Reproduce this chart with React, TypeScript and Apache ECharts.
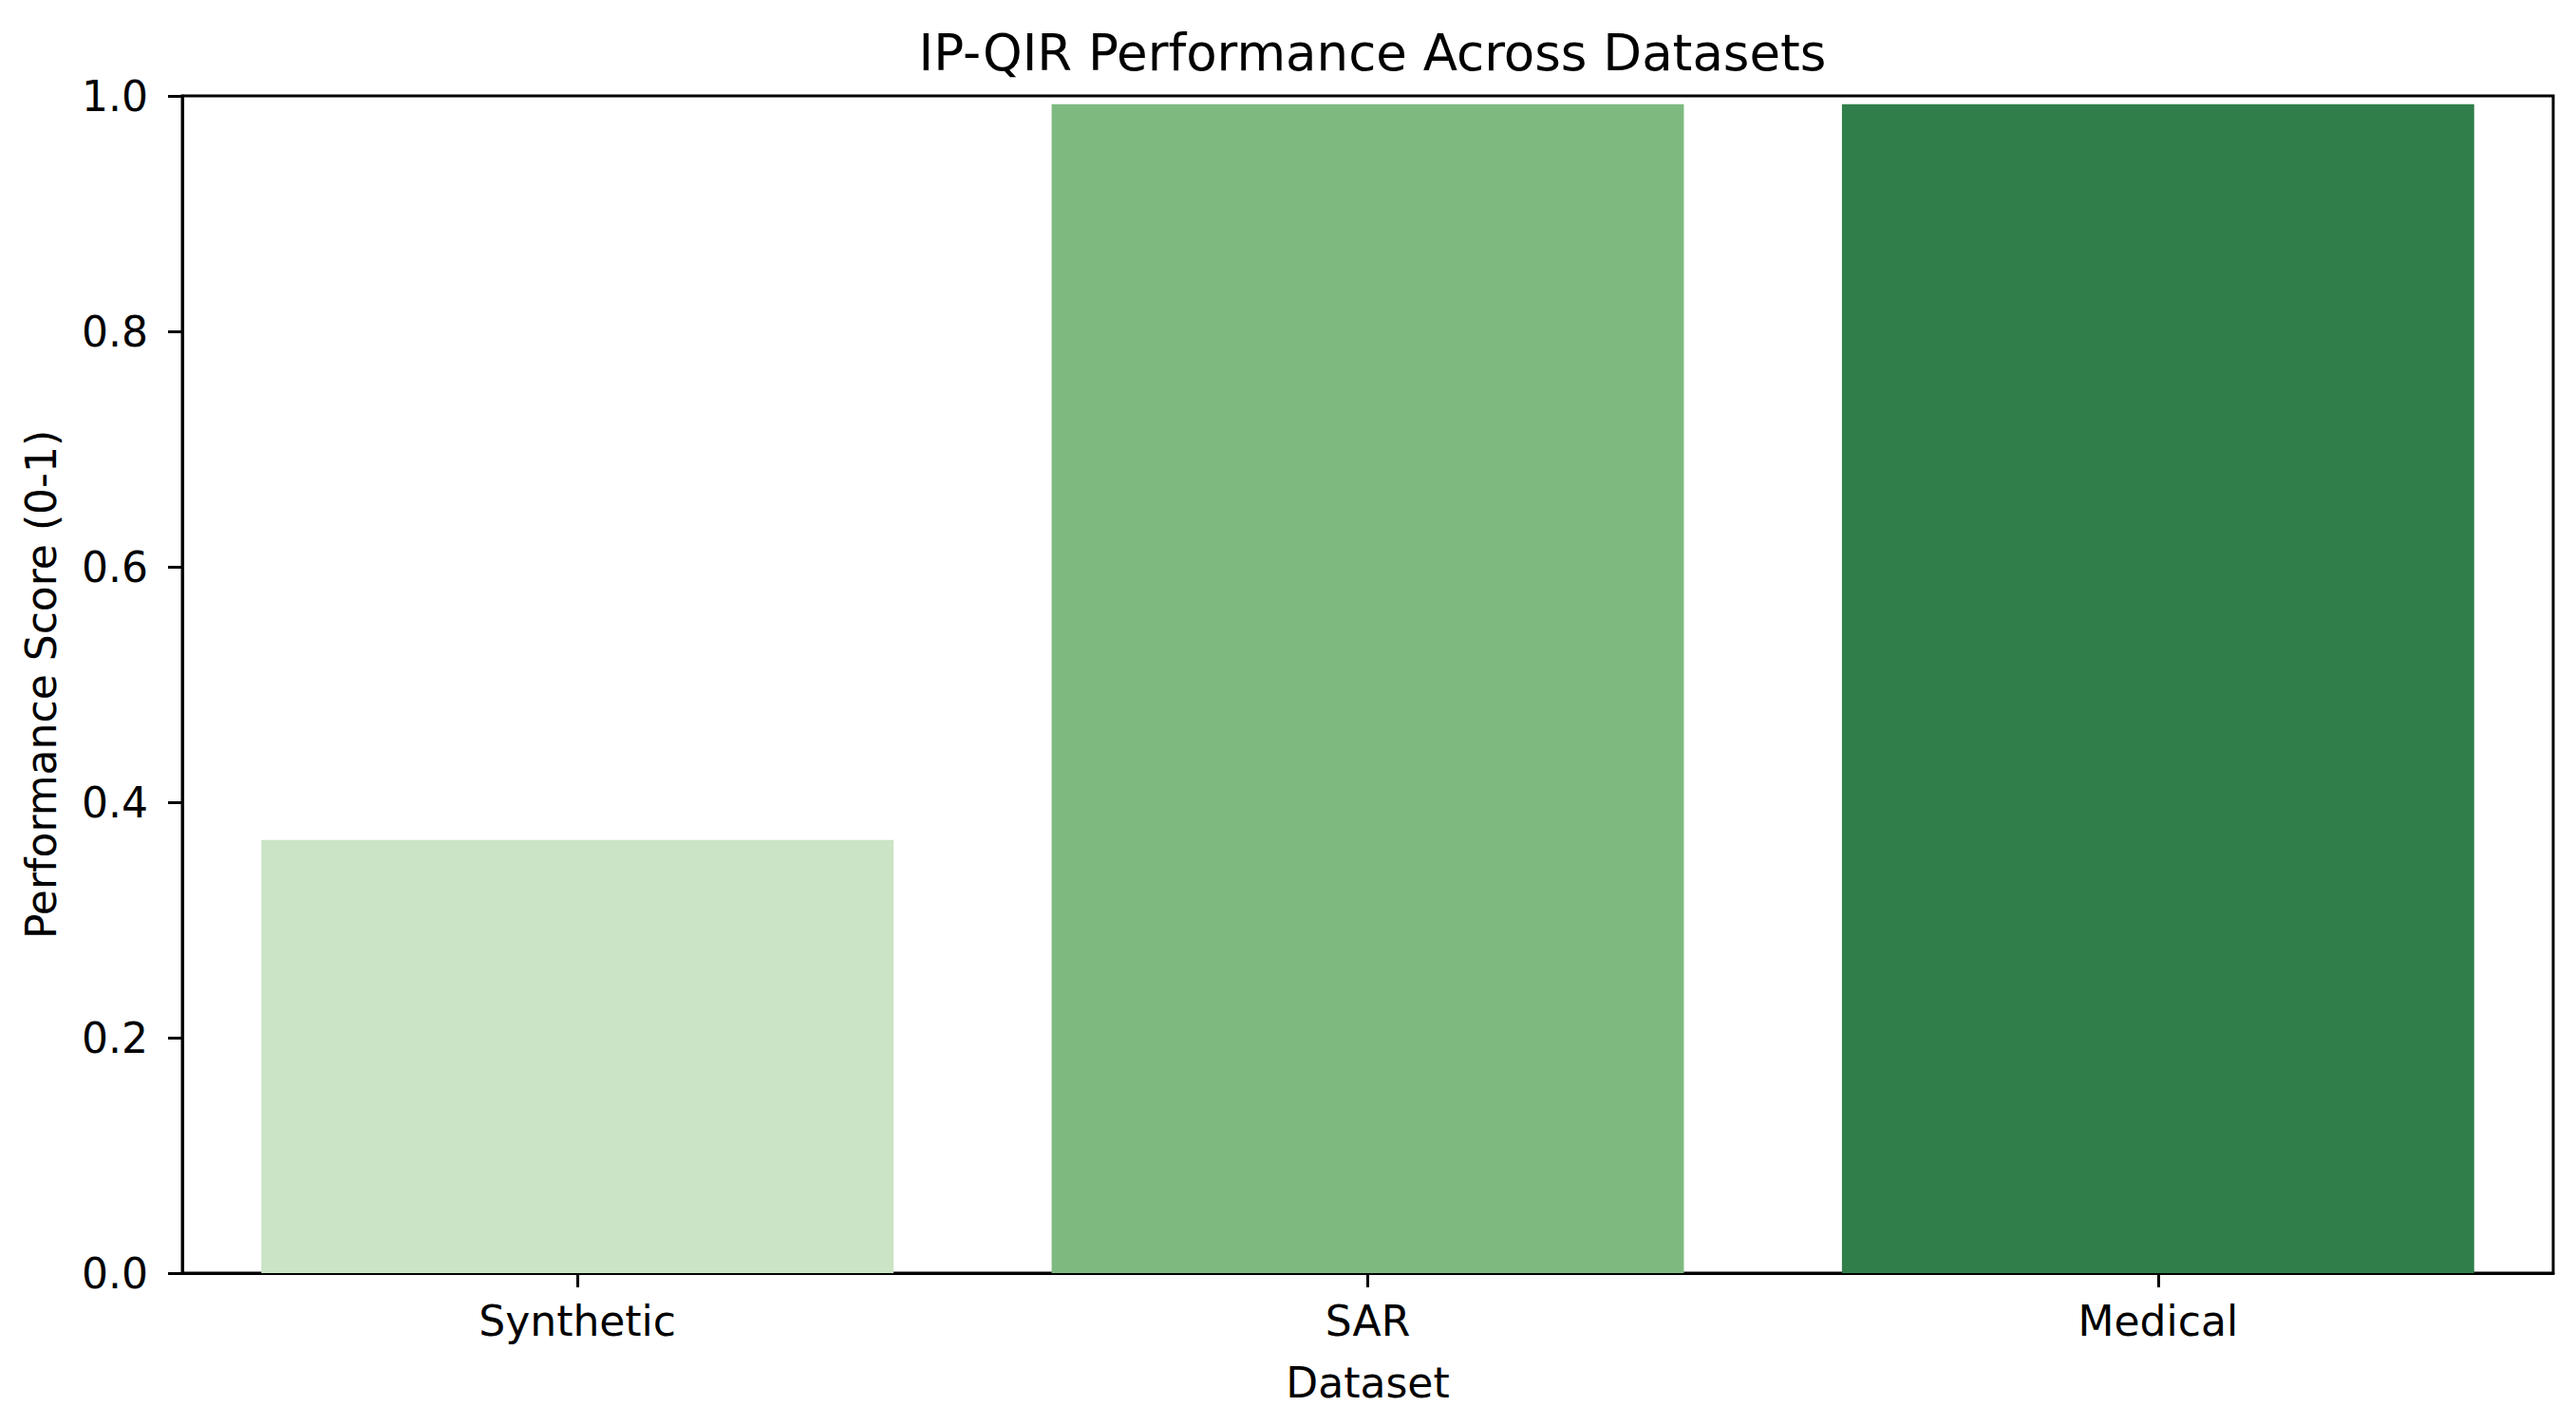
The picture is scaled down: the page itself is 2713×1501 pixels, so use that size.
import React, { useEffect, useRef } from "react";
import * as echarts from "echarts";

const categories = ["Synthetic", "SAR", "Medical"];
const scores = [0.368, 0.993, 0.993];
const barColors = ["#cae4c5", "#7eba80", "#307e4a"];
const yTicks = [0, 0.2, 0.4, 0.6, 0.8, 1.0];

const titleText = "IP-QIR Performance Across Datasets";
const xName = "Dataset";
const yName = "Performance Score (0-1)";

const FONT = "DejaVu Sans";

export default function App() {
  const ref = useRef<HTMLDivElement>(null);

  useEffect(() => {
    if (!ref.current) return;
    const chart = echarts.init(ref.current, null, { renderer: "svg" });
    const option = {
      animation: false,
      backgroundColor: "#ffffff",
      title: {
        text: titleText,
        left: 1440.5,
        top: 24,
        textAlign: "center",
        textStyle: {
          fontFamily: FONT,
          fontSize: 53,
          fontWeight: "normal",
          color: "#000000",
        },
      },
      grid: {
        left: 192,
        right: 24,
        top: 101,
        bottom: 160,
        show: true,
        borderColor: "#000000",
        borderWidth: 3,
        backgroundColor: "transparent",
      },
      xAxis: {
        type: "category",
        data: categories,
        boundaryGap: true,
        name: xName,
        nameLocation: "middle",
        nameGap: 93,
        nameTextStyle: { fontFamily: FONT, fontSize: 44, color: "#000000" },
        axisLine: { show: true, lineStyle: { color: "#000000", width: 3 } },
        axisTick: {
          show: true,
          alignWithLabel: true,
          length: 15,
          lineStyle: { color: "#000000", width: 3 },
        },
        axisLabel: {
          fontFamily: FONT,
          fontSize: 44,
          color: "#000000",
          margin: 28,
        },
        splitLine: { show: false },
      },
      yAxis: {
        type: "value",
        min: 0,
        max: 1,
        interval: 0.2,
        name: yName,
        nameLocation: "middle",
        nameGap: 127,
        nameTextStyle: { fontFamily: FONT, fontSize: 44, color: "#000000" },
        axisLine: { show: true, lineStyle: { color: "#000000", width: 3 } },
        axisTick: {
          show: true,
          length: 15,
          lineStyle: { color: "#000000", width: 3 },
        },
        axisLabel: {
          fontFamily: FONT,
          fontSize: 44,
          color: "#000000",
          margin: 36,
          formatter: (v: number) => {
            const t = yTicks.find((x) => Math.abs(x - v) < 1e-9);
            return (t !== undefined ? t : v).toFixed(1);
          },
        },
        splitLine: { show: false },
      },
      series: [
        {
          type: "bar",
          barWidth: "80%",
          data: scores.map((v, i) => ({
            value: v,
            itemStyle: { color: barColors[i] },
          })),
        },
      ],
    };
    chart.setOption(option);
    return () => chart.dispose();
  }, []);

  return (
    <div
      ref={ref}
      style={{
        position: "fixed",
        left: 0,
        top: 0,
        width: 2713,
        height: 1501,
        background: "#ffffff",
      }}
    />
  );
}
